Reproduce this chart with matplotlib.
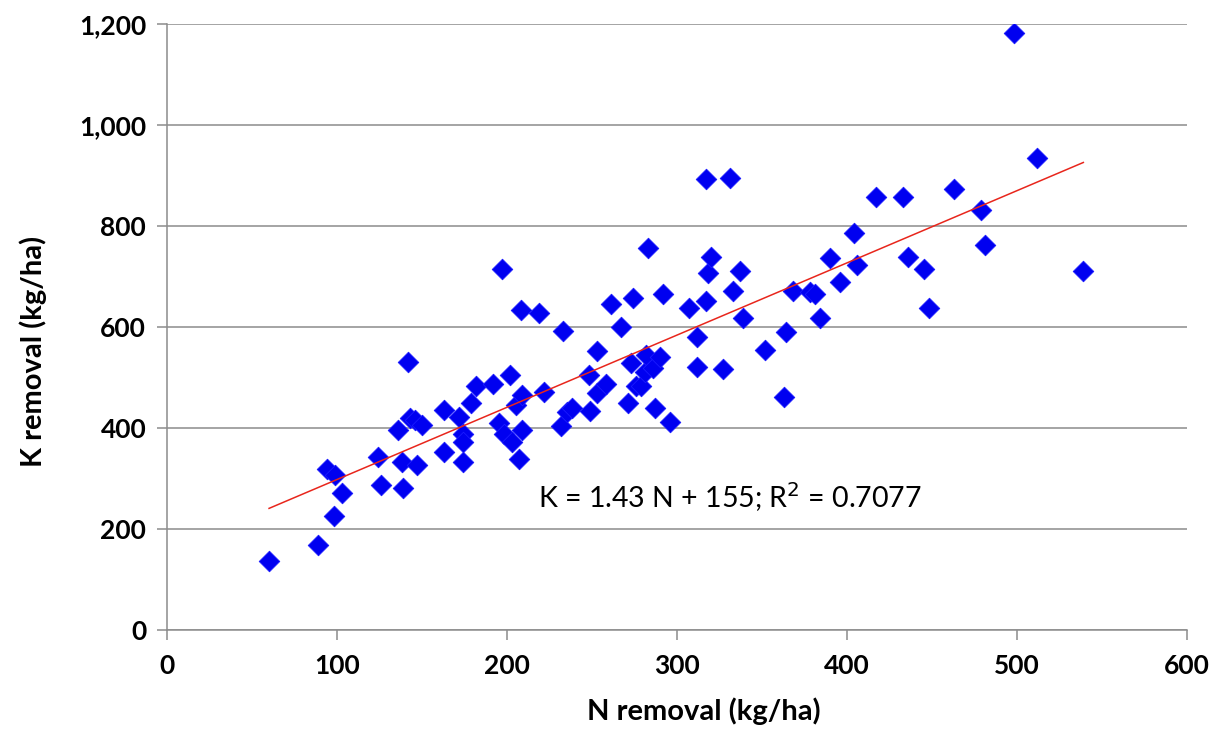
import matplotlib
matplotlib.use("Agg")
from matplotlib import pyplot as plt
from matplotlib.ticker import FuncFormatter
import numpy as np

# N removal (kg/ha) and K removal (kg/ha)
n_removal = [60, 89, 94, 98, 99, 103, 124, 126, 136, 138, 139, 142, 143, 146, 147, 150,
             163, 163, 172, 174, 174, 174, 179, 182, 192, 195, 197, 198, 202, 203, 205,
             207, 208, 209, 209, 219, 222, 232, 233, 235, 238, 249, 248, 253, 253, 258,
             261, 267, 271, 273, 274, 276, 279, 281, 282, 283, 286, 287, 290, 292, 296,
             307, 312, 312, 317, 317, 318, 320, 327, 331, 333, 337, 339, 352, 363, 364,
             368, 378, 381, 384, 390, 396, 404, 406, 417, 433, 436, 445, 448, 463, 479,
             481, 498, 512, 539]
k_removal = [137, 168, 319, 226, 307, 271, 343, 287, 396, 332, 281, 531, 419, 415, 327, 406,
             435, 352, 422, 389, 373, 333, 449, 484, 488, 409, 714, 389, 505, 373, 445,
             338, 634, 465, 396, 627, 472, 403, 592, 432, 439, 434, 504, 552, 469, 487,
             645, 600, 449, 528, 658, 484, 484, 511, 545, 756, 518, 440, 541, 665, 412,
             637, 581, 521, 894, 651, 706, 739, 517, 896, 672, 710, 617, 554, 462, 590,
             671, 670, 665, 617, 736, 690, 786, 723, 858, 858, 739, 714, 637, 873, 832,
             762, 1183, 934, 711]

slope = 1.43
intercept = 155
eq_label = "K = 1.43 N + 155; R$^2$ = 0.7077"

x_ticks = [0, 100, 200, 300, 400, 500, 600]
y_ticks = [0, 200, 400, 600, 800, 1000, 1200]

plt.rcParams['font.family'] = ['Lato', 'DejaVu Sans']

fig = plt.figure(figsize=(12.23, 7.45), dpi=100)
ax = fig.add_axes([0.1366, 0.1544, 0.834, 0.8134])

ax.scatter(n_removal, k_removal, marker='D', s=110, color='#0000f0',
           edgecolors='#1a1aff', linewidths=0.6, zorder=3)

xs = np.array([min(n_removal), max(n_removal)])
ax.plot(xs, slope * xs + intercept, color='#e8261c', lw=1.1, zorder=4)

ax.set_xlim(0, 600)
ax.set_ylim(0, 1200)
ax.set_xticks(x_ticks)
ax.set_yticks(y_ticks)
ax.yaxis.set_major_formatter(FuncFormatter(lambda v, p: f"{int(v):,}"))

ax.grid(axis='y', color='#8c8c8c', lw=1.1)
ax.set_axisbelow(True)
for s in ['top', 'right']:
    ax.spines[s].set_visible(False)
for s in ['left', 'bottom']:
    ax.spines[s].set_color('#8c8c8c')
    ax.spines[s].set_linewidth(1.1)

ax.tick_params(axis='both', colors='#8c8c8c', length=7, width=1.1)
ax.tick_params(axis='x', direction='out', pad=10)
ax.tick_params(axis='y', direction='out', pad=8)
for lab in ax.get_xticklabels() + ax.get_yticklabels():
    lab.set_color('black')
    lab.set_fontsize(19)
    lab.set_fontweight('bold')

ax.set_xlabel('N removal (kg/ha)', fontsize=21, fontweight='bold')
ax.set_ylabel('K removal (kg/ha)', fontsize=21, fontweight='bold')
ax.xaxis.set_label_coords(0.526, -0.112)
ax.yaxis.set_label_coords(-0.118, 0.46)

ax.text(331, 263, eq_label, fontsize=20.5, ha='center', va='center')

fig.savefig('out.png', dpi=100)
